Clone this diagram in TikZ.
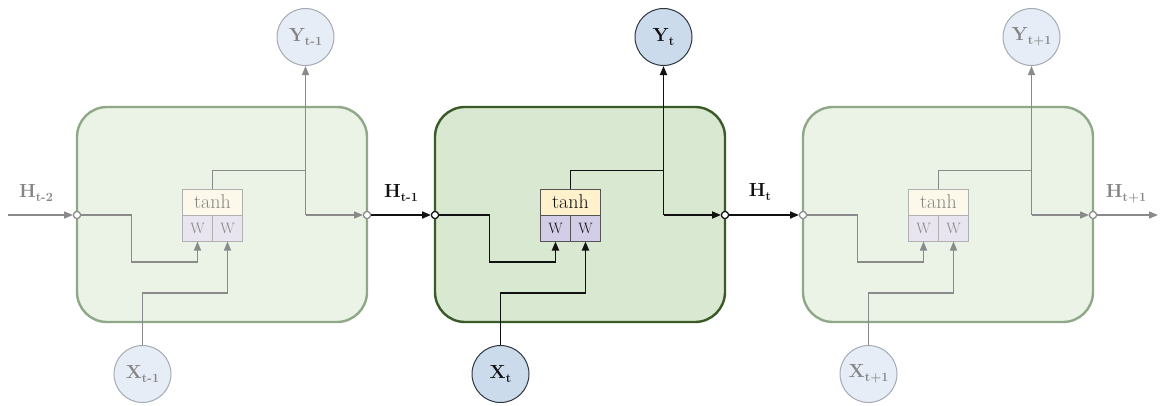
\documentclass[tikz,border=0pt]{standalone}
\usepackage{fontspec}
\usetikzlibrary{arrows.meta}
\definecolor{lnF}{HTML}{8A8A8A}
\definecolor{lnA}{HTML}{111111}
\definecolor{bxF}{HTML}{EBF2E6}
\definecolor{bxA}{HTML}{D9E8D0}
\definecolor{bdF}{HTML}{8FA888}
\definecolor{bdA}{HTML}{3A5A28}
\definecolor{tF}{HTML}{FCF9EA}
\definecolor{tA}{HTML}{FFF1CB}
\definecolor{wF}{HTML}{E8E4F0}
\definecolor{wA}{HTML}{D4CDE7}
\definecolor{cF}{HTML}{E6EDF6}
\definecolor{cA}{HTML}{CBDBEB}
\definecolor{cdF}{HTML}{A4ABB3}
\definecolor{cdA}{HTML}{2E3640}
\definecolor{txF}{HTML}{858585}
\definecolor{txA}{HTML}{111111}
\definecolor{kdF}{HTML}{B0B0B0}
\definecolor{kdA}{HTML}{555555}
\colorlet{ln}{lnF}\colorlet{bxfill}{bxF}\colorlet{bxdraw}{bdF}\colorlet{tfill}{tF}
\colorlet{wfill}{wF}\colorlet{cfill}{cF}\colorlet{cdraw}{cdF}\colorlet{txt}{txF}\colorlet{kdraw}{kdF}
\newcommand{\lbl}[2]{#1\raisebox{-0.5ex}{\fontsize{12.5}{12.5}\selectfont #2}}
\newcommand{\cellLW}{1.4pt}
\tikzset{
  fadedset/.code={\colorlet{ln}{lnF}\colorlet{bxfill}{bxF}\colorlet{bxdraw}{bdF}\colorlet{tfill}{tF}\colorlet{wfill}{wF}\colorlet{cfill}{cF}\colorlet{cdraw}{cdF}\colorlet{txt}{txF}\colorlet{kdraw}{kdF}\def\cellLW{1.4pt}},
  activeset/.code={\colorlet{ln}{lnA}\colorlet{bxfill}{bxA}\colorlet{bxdraw}{bdA}\colorlet{tfill}{tA}\colorlet{wfill}{wA}\colorlet{cfill}{cA}\colorlet{cdraw}{cdA}\colorlet{txt}{txA}\colorlet{kdraw}{kdA}\def\cellLW{1.8pt}},
  >={Triangle[length=9pt,width=7pt]},
  cellbox/.style={draw=bxdraw,fill=bxfill,line width=2.4pt,rounded corners=30pt,minimum width=290pt,minimum height=215pt,inner sep=0pt},
  port/.style={circle,draw=ln,fill=white,line width=1pt,minimum size=7pt,inner sep=0pt},
  conn/.style={draw=ln,line width=\cellLW},
  tanhbox/.style={draw=kdraw,fill=tfill,line width=1pt,minimum width=60pt,minimum height=26pt,inner sep=0pt,text=txt,font=\fontsize{20}{20}\selectfont},
  wbox/.style={draw=kdraw,fill=wfill,line width=1pt,minimum width=30pt,minimum height=26pt,inner sep=0pt,text=txt,font=\fontsize{15}{15}\selectfont},
  unit/.style={circle,draw=cdraw,fill=cfill,line width=1pt,minimum size=57pt,inner sep=0pt,text=txt,font=\bfseries\fontsize{19}{19}\selectfont},
  hlabel/.style={font=\bfseries\fontsize{19}{19}\selectfont,inner sep=0pt}
}
\newcommand{\rnnunit}[4]{%
  \node[cellbox] (box#2) at ({#1+145},214.5) {};
  \node[port] (in#2) at (#1,215) {};
  \node[port] (out#2) at ({#1+290},215) {};
  \node[tanhbox] (tanh#2) at ({#1+135.5},202) {tanh};
  \node[wbox] (wa#2) at ({#1+120.5},228) {W};
  \node[wbox] (wb#2) at ({#1+150.5},228) {W};
  \node[unit] (y#2) at ({#1+228.5},37) {#3};
  \node[unit] (x#2) at ({#1+65.5},374) {#4};
  \coordinate (j#2) at ({#1+228.5},215);
  \draw[conn] (tanh#2.north) -- ++(0,-18) -| (j#2);
  \draw[conn,->] (j#2) -- (y#2);
  \draw[conn,->] (j#2) -- (out#2);
  \draw[conn,->] (in#2) -| ({#1+54.5},262) -| (wa#2.south);
  \draw[conn,->] (x#2) |- ({#1+150.5},293) -- (wb#2.south);
  \node[port] at (in#2) {};
  \node[port] at (out#2) {};
}
\begin{document}
\begin{tikzpicture}[x=1pt,y=-1pt]
\useasboundingbox (0,0) rectangle (1160,405);
\begin{scope}[fadedset]
  \rnnunit{77}{a}{\lbl{Y}{t-1}}{\lbl{X}{t-1}}
\end{scope}
\begin{scope}[activeset]
  \rnnunit{435}{b}{\lbl{Y}{t}}{\lbl{X}{t}}
\end{scope}
\begin{scope}[fadedset]
  \rnnunit{803}{c}{\lbl{Y}{t+1}}{\lbl{X}{t+1}}
\end{scope}
% connectors between cells
\coordinate (hstart) at (8,215);
\coordinate (hend) at (1158,215);
\draw[draw=lnF,line width=1.4pt,->] (hstart) -- (ina);
\draw[draw=lnA,line width=1.8pt,->] (outa) -- (inb);
\draw[draw=lnA,line width=1.8pt,->] (outb) -- (inc);
\draw[draw=lnF,line width=1.4pt,->] (outc) -- (hend);
\node[port,draw=lnF] at (ina) {};
\node[port,draw=lnF] at (outa) {};
\node[port,draw=lnA] at (inb) {};
\node[port,draw=lnA] at (outb) {};
\node[port,draw=lnF] at (inc) {};
\node[port,draw=lnF] at (outc) {};
% labels
\node[hlabel,text=txF] (lh2) at (36,193) {\lbl{H}{t-2}};
\node[hlabel,text=txA] (lh1) at (401,193) {\lbl{H}{t-1}};
\node[hlabel,text=txA] (lh0) at (760,192) {\lbl{H}{t}};
\node[hlabel,text=txF] (lhp) at (1126,194) {\lbl{H}{t+1}};
\end{tikzpicture}
\end{document}
